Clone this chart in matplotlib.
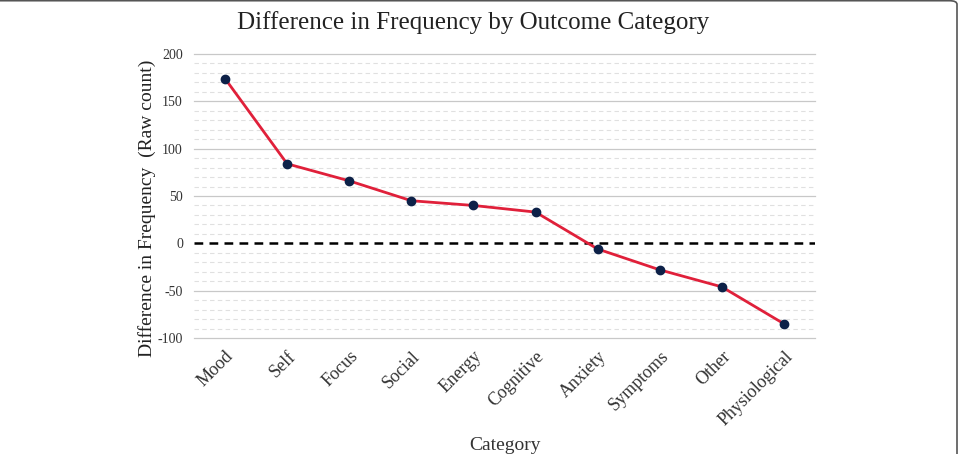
import numpy as np
import matplotlib.pyplot as plt
from matplotlib.patches import FancyBboxPatch

categories = ["Mood", "Self", "Focus", "Social", "Energy", "Cognitive",
              "Anxiety", "Symptoms", "Other", "Physiological"]
diff_values = [174, 84, 66, 45, 40, 33, -6, -28, -46, -85]
major_ticks = [-100, -50, 0, 50, 100, 150, 200]

plt.rcParams['font.family'] = ['Liberation Serif', 'DejaVu Serif']

W, H = 959, 454
fig = plt.figure(figsize=(W / 100, H / 100), dpi=100)
ax = fig.add_axes([194 / W, 1 - 338 / H, (815 - 194) / W, (338 - 54) / H])

# frame: only the top edge and the right edge show, rounded top-right corner
frame = FancyBboxPatch((-20 / W, -20 / H), 977 / W, (H + 19.3) / H,
                       boxstyle="round,pad=0,rounding_size=0.008",
                       transform=fig.transFigure, fill=False,
                       edgecolor="#555555", lw=1.2)
fig.patches.append(frame)

# grid
for v in range(-100, 201, 10):
    if v in major_ticks:
        if v != 0:
            ax.axhline(v, color="#c8c8c8", lw=0.9, zorder=1, clip_on=False)
    else:
        ax.axhline(v, color="#e0e0e0", lw=0.8, ls=(0, (4, 3)), zorder=1)
ax.axhline(0, color="black", lw=1.8, ls=(0, (3.5, 2.5)), zorder=2)

x = np.arange(len(categories))
ax.plot(x, diff_values, color="#e0203a", lw=2, zorder=3)
ax.plot(x, diff_values, "o", color="#0d2148", ms=6, zorder=4)

ax.set_xlim(-0.5, len(categories) - 0.5)
ax.set_ylim(-100, 200)
ax.set_yticks(major_ticks)
ax.set_yticklabels([str(t) for t in major_ticks], fontsize=10, color="#333333")
ax.set_xticks(x)
ax.set_xticklabels(categories, rotation=45, ha="right", rotation_mode="anchor",
                   fontsize=13, color="#333333")
ax.tick_params(axis="both", length=0, pad=8)
ax.tick_params(axis="x", pad=7)
for s in ax.spines.values():
    s.set_visible(False)

fig.text(147 / W, 1 - 208 / H, "Difference in Frequency  (Raw count)", rotation=90,
         ha="center", va="center", fontsize=14, color="#222222")
ax.set_xlabel("Category", fontsize=14, color="#333333", labelpad=6)
fig.text(0.493, 1 - 23 / H, "Difference in Frequency by Outcome Category",
         ha="center", va="center", fontsize=18, color="#222222")

fig.savefig("out.png", dpi=100)
